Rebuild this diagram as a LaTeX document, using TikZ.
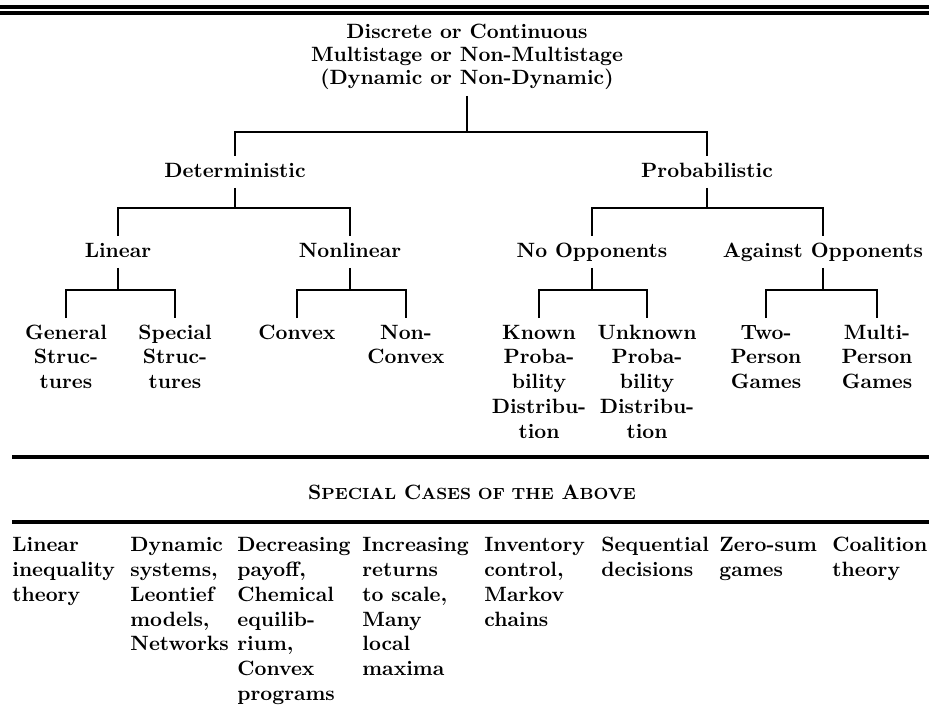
\documentclass[tikz,border=0pt]{standalone}
\newcommand\fstrut{\rule{0pt}{7pt}}
\newcommand\smc[1]{{\fontsize{7.8}{9}\selectfont #1}}
\tikzset{
  conn/.style={line width=1.4pt},
  rulel/.style={line width=1.5pt},
  lvl/.style={font=\bfseries, text height=7pt, text depth=2pt, inner xsep=0pt, inner ysep=3pt, anchor=base},
  leaf/.style={font=\fontsize{10}{12}\selectfont\bfseries, align=center, inner xsep=0pt, inner ysep=3pt, anchor=north},
  titlebox/.style={font=\fontsize{10}{11}\selectfont\bfseries, align=center, inner xsep=0pt, inner ysep=3pt, anchor=north},
  casebox/.style={font=\fontsize{10}{12}\selectfont\bfseries, align=left, inner xsep=0pt, inner ysep=3pt, anchor=north west},
}
\begin{document}
\begin{tikzpicture}[x=0.4831pt, y=-0.4831pt]
\useasboundingbox (0,0) rectangle (929,719);
% top double rule
\coordinate (tl1) at (0,7);   \coordinate (tr1) at (929,7);
\coordinate (tl2) at (0,13);  \coordinate (tr2) at (929,13);
\draw[rulel] (tl1) -- (tr1);
\draw[rulel] (tl2) -- (tr2);
% title
\node[titlebox] (title) at (467,17.5) {\fstrut Discrete or Continuous\\Multistage or Non-Multistage\\(Dynamic or Non-Dynamic)};
% level 2
\node[lvl] (det) at (235,177) {Deterministic};
\node[lvl] (prob) at (707,177) {Probabilistic};
\coordinate (j0) at (467,132);
\draw[conn] (title.south) -- (j0);
\draw[conn] (det.north) |- (j0) -| (prob.north);
% level 3
\node[lvl] (lin) at (118,257) {Linear};
\node[lvl] (nonlin) at (350,257) {Nonlinear};
\node[lvl] (noopp) at (592,257) {No Opponents};
\node[lvl] (against) at (823,257) {Against Opponents};
\coordinate (j1) at (235,208);
\coordinate (j2) at (707,208);
\draw[conn] (det.south) -- (j1);
\draw[conn] (lin.north) |- (j1) -| (nonlin.north);
\draw[conn] (prob.south) -- (j2);
\draw[conn] (noopp.north) |- (j2) -| (against.north);
% leaves
\node[leaf] (gen) at (66,318) {\fstrut General\\Struc-\\tures};
\node[leaf] (spec) at (175,318) {\fstrut Special\\Struc-\\tures};
\node[leaf] (cvx) at (297,318) {\fstrut Convex};
\node[leaf] (ncvx) at (406,318) {\fstrut Non-\\Convex};
\node[leaf] (known) at (539,318) {\fstrut Known\\Proba-\\bility\\Distribu-\\tion};
\node[leaf] (unknown) at (647,318) {\fstrut Unknown\\Proba-\\bility\\Distribu-\\tion};
\node[leaf] (two) at (766,318) {\fstrut Two-\\Person\\Games};
\node[leaf] (multi) at (877,318) {\fstrut Multi-\\Person\\Games};
\coordinate (k1) at (118,290);
\coordinate (k2) at (350,290);
\coordinate (k3) at (592,290);
\coordinate (k4) at (823,290);
\draw[conn] (lin.south) -- (k1);
\draw[conn] (gen.north) |- (k1) -| (spec.north);
\draw[conn] (nonlin.south) -- (k2);
\draw[conn] (cvx.north) |- (k2) -| (ncvx.north);
\draw[conn] (noopp.south) -- (k3);
\draw[conn] (known.north) |- (k3) -| (unknown.north);
\draw[conn] (against.south) -- (k4);
\draw[conn] (two.north) |- (k4) -| (multi.north);
% rules and special cases heading
\coordinate (r1l) at (12,457); \coordinate (r1r) at (929,457);
\coordinate (r2l) at (12,522); \coordinate (r2r) at (929,522);
\draw[rulel] (r1l) -- (r1r);
\draw[rulel] (r2l) -- (r2r);
\node[font=\bfseries, anchor=base, inner sep=0pt] (cases) at (472,499) {S\smc{PECIAL} C\smc{ASES OF THE} A\smc{BOVE}};
% special cases columns
\node[casebox] (c1) at (12,530.5) {\fstrut Linear\\inequality\\theory};
\node[casebox] (c2) at (130,530.5) {\fstrut Dynamic\\systems,\\Leontief\\models,\\Networks};
\node[casebox] (c3) at (237,530.5) {\fstrut Decreasing\\payoff,\\Chemical\\equilib-\\rium,\\Convex\\programs};
\node[casebox] (c4) at (362,530.5) {\fstrut Increasing\\returns\\to scale,\\Many\\local\\maxima};
\node[casebox] (c5) at (484,530.5) {\fstrut Inventory\\control,\\Markov\\chains};
\node[casebox] (c6) at (601,530.5) {\fstrut Sequential\\decisions};
\node[casebox] (c7) at (719,530.5) {\fstrut Zero-sum\\games};
\node[casebox] (c8) at (832,530.5) {\fstrut Coalition\\theory};
\end{tikzpicture}
\end{document}
